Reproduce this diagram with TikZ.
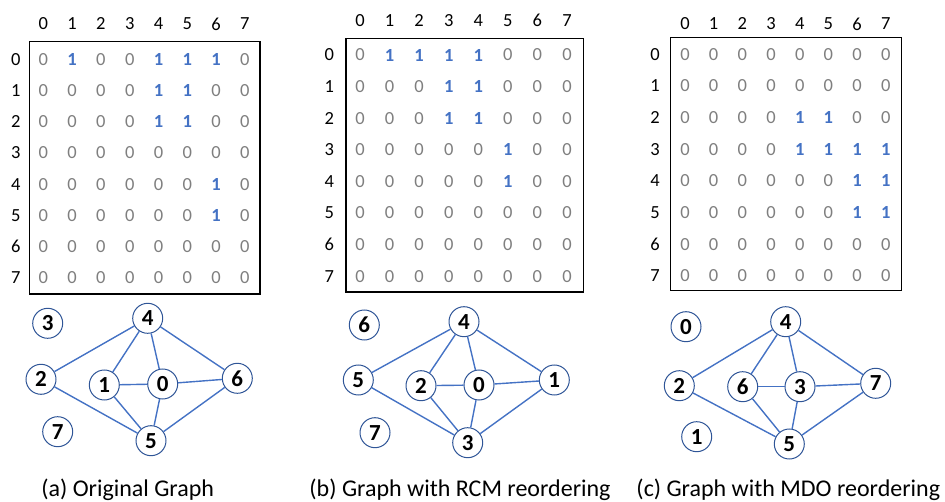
\documentclass[tikz,border=0pt]{standalone}
\usepackage{fontspec}
\setmainfont{Carlito}
\definecolor{oblue}{HTML}{4472C4}
\definecolor{dblue}{HTML}{2F5597}
\definecolor{zgray}{HTML}{7F7F7F}
\begin{document}
\begin{tikzpicture}[x=1pt,y=-1pt,
  hdr/.style={font=\fontsize{18.5}{20}\selectfont,text=black,inner sep=0pt},
  cell0/.style={font=\fontsize{18.5}{20}\selectfont,text=zgray,inner sep=0pt},
  cell1/.style={font=\fontsize{18.5}{20}\selectfont\bfseries,text=oblue,inner sep=0pt},
  mbox/.style={draw=black,line width=1.3pt},
  vtx/.style={circle,draw=dblue,line width=1pt,fill=white,minimum size=30pt,inner sep=0pt,font=\fontsize{23}{25}\selectfont\bfseries},
  gedge/.style={draw=oblue,line width=1.4pt},
  captext/.style={font=\fontsize{24}{27}\selectfont,inner sep=0pt}]
\useasboundingbox (0,0) rectangle (945,502);

% ---------- matrix (a)
\draw[mbox] (29.5,41.7) rectangle (260,294);
\foreach \i in {0,...,7}{
  \node[hdr] (ac\i) at (43.3+28.8*\i,24) {\i};
  \node[hdr] (ar\i) at (15.7,59.3+31.2*\i) {\i};
}
\foreach \r [count=\j from 0] in {{0,1,0,0,1,1,1,0},{0,0,0,0,1,1,0,0},{0,0,0,0,1,1,0,0},{0,0,0,0,0,0,0,0},{0,0,0,0,0,0,1,0},{0,0,0,0,0,0,1,0},{0,0,0,0,0,0,0,0},{0,0,0,0,0,0,0,0}}{
  \foreach \v [count=\i from 0] in \r {
    \node[cell\v] (a-\j-\i) at (43.3+28.8*\i,59.3+31.2*\j) {\v};
  }
}

% ---------- matrix (b)
\draw[mbox] (346,38.7) rectangle (583.3,292);
\foreach \i in {0,...,7}{
  \node[hdr] (bc\i) at (360+29.57*\i,20.7) {\i};
  \node[hdr] (br\i) at (329.3,55+31.6*\i) {\i};
}
\foreach \r [count=\j from 0] in {{0,1,1,1,1,0,0,0},{0,0,0,1,1,0,0,0},{0,0,0,1,1,0,0,0},{0,0,0,0,0,1,0,0},{0,0,0,0,0,1,0,0},{0,0,0,0,0,0,0,0},{0,0,0,0,0,0,0,0},{0,0,0,0,0,0,0,0}}{
  \foreach \v [count=\i from 0] in \r {
    \node[cell\v] (b-\j-\i) at (360+29.57*\i,55+31.6*\j) {\v};
  }
}

% ---------- matrix (c)
\draw[mbox] (670.7,37.7) rectangle (901.7,290.7);
\foreach \i in {0,...,7}{
  \node[hdr] (cc\i) at (685+28.67*\i,24) {\i};
  \node[hdr] (cr\i) at (655,54.3+31.67*\i) {\i};
}
\foreach \r [count=\j from 0] in {{0,0,0,0,0,0,0,0},{0,0,0,0,0,0,0,0},{0,0,0,0,1,1,0,0},{0,0,0,0,1,1,1,1},{0,0,0,0,0,0,1,1},{0,0,0,0,0,0,1,1},{0,0,0,0,0,0,0,0},{0,0,0,0,0,0,0,0}}{
  \foreach \v [count=\i from 0] in \r {
    \node[cell\v] (c-\j-\i) at (685+28.67*\i,54.3+31.67*\j) {\v};
  }
}

% ---------- graph (a)
\node[vtx] (ga3) at (47.7,323.3) {3};
\node[vtx] (ga4) at (147.7,318.3) {4};
\node[vtx] (ga2) at (41,379.3) {2};
\node[vtx] (ga1) at (104.3,385) {1};
\node[vtx] (ga0) at (162.7,384) {0};
\node[vtx] (ga6) at (237.3,378.3) {6};
\node[vtx] (ga7) at (57.7,431.7) {7};
\node[vtx] (ga5) at (151,440.7) {5};
\foreach \p/\q in {4/2,4/1,4/0,4/6,1/0,0/6,2/5,1/5,0/5,6/5}
  \draw[gedge] (ga\p) -- (ga\q);
\node[captext] (capa) at (127.7,490) {(a) Original Graph};

% ---------- graph (b)
\node[vtx] (gb6) at (364.3,325) {6};
\node[vtx] (gb4) at (464,321.7) {4};
\node[vtx] (gb5) at (358.3,380) {5};
\node[vtx] (gb2) at (421,385.7) {2};
\node[vtx] (gb0) at (479,385) {0};
\node[vtx] (gb1) at (554.3,380) {1};
\node[vtx] (gb7) at (375,432.7) {7};
\node[vtx] (gb3) at (467.7,442.7) {3};
\foreach \p/\q in {4/5,4/2,4/0,4/1,2/0,0/1,5/3,2/3,0/3,1/3}
  \draw[gedge] (gb\p) -- (gb\q);
\node[captext] (capb) at (460,490) {(b) Graph with RCM reordering};

% ---------- graph (c)
\node[vtx] (gc0) at (686,326.7) {0};
\node[vtx] (gc4) at (785.7,321.7) {4};
\node[vtx] (gc2) at (679.3,385.7) {2};
\node[vtx] (gc6) at (742.7,386.7) {6};
\node[vtx] (gc3) at (800,386.7) {3};
\node[vtx] (gc7) at (875.7,383.3) {7};
\node[vtx] (gc1) at (696.7,436.7) {1};
\node[vtx] (gc5) at (789.3,444) {5};
\foreach \p/\q in {4/2,4/6,4/3,4/7,6/3,3/7,2/5,6/5,3/5,7/5}
  \draw[gedge] (gc\p) -- (gc\q);
\node[captext] (capc) at (788.3,490) {(c) Graph with MDO reordering};
\end{tikzpicture}
\end{document}
